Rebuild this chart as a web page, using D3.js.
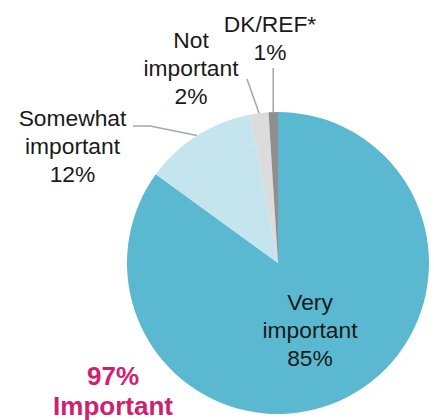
<!DOCTYPE html>
<html>
<head>
<meta charset="utf-8">
<script src="https://cdn.jsdelivr.net/npm/d3@7"></script>
<style>
  html, body { margin: 0; padding: 0; background: #fff; }
  svg { display: block; }
  text { font-family: "Liberation Sans", Arial, Helvetica, sans-serif; }
</style>
</head>
<body>
<svg id="chart" width="434" height="420"></svg>
<script>
// Data
const categories = ["Very important", "Somewhat important", "Not important", "DK/REF*"];
const values = [85, 12, 2, 1];
const labelLines = [["Very", "important", "85%"], ["Somewhat", "important", "12%"], ["Not", "important", "2%"], ["DK/REF*", "1%"]];
const colors = ["#5bb8d1", "#c4e4ee", "#dcdcdc", "#8f8f8f"];
const totalLabel = ["97%", "Important"];

// Layout
const cx = 278, cy = 263, R = 151;
const lineH = 28;
const labelPos = [
  { x: 310, y: 310, leader: null },
  { x: 72.5, y: 126, leader: [[150, 126], [133, 126]] },
  { x: 191, y: 48, leader: [[247, 79]] },
  { x: 270, y: 32, leader: "vertical", top: 68 }
];

const svg = d3.select("#chart");
const g = svg.append("g").attr("transform", `translate(${cx},${cy})`);

const pie = d3.pie().sort(null).value(d => d)(values);
const arc = d3.arc().innerRadius(0).outerRadius(R);

g.selectAll("path.slice").data(pie).join("path")
  .attr("class", "slice")
  .attr("d", arc)
  .attr("fill", (d, i) => colors[i]);

// leader lines
pie.forEach((d, i) => {
  const lp = labelPos[i];
  if (!lp.leader) return;
  const mid = (d.startAngle + d.endAngle) / 2;
  const sx = cx + R * Math.sin(mid), sy = cy - R * Math.cos(mid);
  let pts = [[sx, sy]];
  if (lp.leader === "vertical") pts.push([sx, lp.top]);
  else pts = pts.concat(lp.leader);
  svg.append("path")
    .attr("d", d3.line()(pts))
    .attr("fill", "none")
    .attr("stroke", "#a9a9a9")
    .attr("stroke-width", 1.6);
});

// labels
labelLines.forEach((lines, i) => {
  const lp = labelPos[i];
  const t = svg.append("text")
    .attr("text-anchor", "middle")
    .attr("font-size", 22.8)
    .attr("fill", "#1a1a1a");
  lines.forEach((s, j) => {
    t.append("tspan").attr("x", lp.x).attr("y", lp.y + j * lineH).text(s);
  });
});

// total label
const tt = svg.append("text")
  .attr("text-anchor", "middle")
  .attr("font-size", 26)
  .attr("font-weight", "bold")
  .attr("fill", "#d1206f");
totalLabel.forEach((s, j) => {
  tt.append("tspan").attr("x", 113).attr("y", 385 + j * 30).text(s);
});
</script>
</body>
</html>
